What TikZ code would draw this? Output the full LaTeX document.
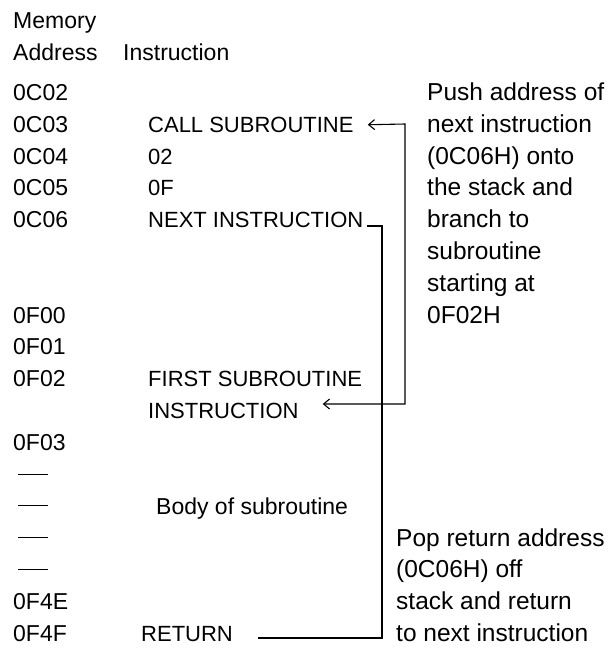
\documentclass[tikz,border=0pt]{standalone}
\usepackage{fontspec}
\setmainfont{Liberation Sans}
\usetikzlibrary{arrows.meta}
\begin{document}
\begin{tikzpicture}[x=1pt,y=-1pt,
  txt/.style={anchor=base west, inner sep=0pt, font=\fontsize{23}{28}\selectfont},
  cmd/.style={anchor=base west, inner sep=0pt, font=\fontsize{22}{28}\selectfont},
  note/.style={anchor=base west, inner sep=0pt, font=\fontsize{24.5}{28}\selectfont},
  conn/.style={line width=1.1pt},
  twoway/.style={{Straight Barb[length=6pt,width=10pt]}-{Straight Barb[length=6pt,width=10pt]}},
  dashmark/.style={inner sep=0pt}]
\useasboundingbox (0,0) rectangle (608,648);
% headers
\node[txt] (hmem) at (13,28.5) {Memory};
\node[txt] (hadr) at (13,60.5) {Address};
\node[txt] (hins) at (123,60.5) {Instruction};
% addresses (baseline = 100.5 + 31.8 i)
\node[txt] (a0) at (13,100.5) {0C02};
\node[txt] (a1) at (13,132.3) {0C03};
\node[txt] (a2) at (13,164.1) {0C04};
\node[txt] (a3) at (13,195.9) {0C05};
\node[txt] (a4) at (13,227.7) {0C06};
\node[txt] (a7) at (13,323.1) {0F00};
\node[txt] (a8) at (13,354.9) {0F01};
\node[txt] (a9) at (13,386.7) {0F02};
\node[txt] (a11) at (13,450.3) {0F03};
\node[dashmark] (d12) at (33,474) {\rule{30pt}{1pt}};
\node[dashmark] (d13) at (33,505.8) {\rule{30pt}{1pt}};
\node[dashmark] (d14) at (33,537.6) {\rule{30pt}{1pt}};
\node[dashmark] (d15) at (33,569.4) {\rule{30pt}{1pt}};
\node[txt] (a16) at (13,609.7) {0F4E};
\node[txt] (a17) at (13,641.5) {0F4F};
% instructions
\node[cmd] (call) at (148,132.3) {CALL SUBROUTINE};
\node[cmd] (i2) at (148,164.1) {02};
\node[cmd] (i3) at (148,195.9) {0F};
\node[cmd] (next) at (148,227.7) {NEXT INSTRUCTION};
\node[cmd] (first) at (148,386.7) {FIRST SUBROUTINE};
\node[cmd] (instr) at (148,418.5) {INSTRUCTION};
\node[txt] (body) at (156,514.2) {Body of subroutine};
\node[cmd] (ret) at (141,641.5) {RETURN};
% right texts
\node[note] (r0) at (427,100.5) {Push address of};
\node[note] (r1) at (427,132.3) {next instruction};
\node[note] (r2) at (427,164.1) {(0C06H) onto};
\node[note] (r3) at (427,195.9) {the stack and};
\node[note] (r4) at (427,227.7) {branch to};
\node[note] (r5) at (427,259.5) {subroutine};
\node[note] (r6) at (427,291.3) {starting at};
\node[note] (r7) at (427,323.1) {0F02H};
\node[note] (p0) at (396,546.1) {Pop return address};
\node[note] (p1) at (396,577.9) {(0C06H) off};
\node[note] (p2) at (396,609.7) {stack and return};
\node[note] (p3) at (396,641.5) {to next instruction};
% connectors
\coordinate (v2top) at (405,124);
\coordinate (v2bot) at (405,404);
\draw[conn,twoway] ([xshift=14pt]call.east) -- (v2top) -- (v2bot) -- ([xshift=24pt]instr.east |- v2bot);
\coordinate (v1top) at (382,226);
\coordinate (v1bot) at (382,638);
\draw[conn] ([xshift=3pt]next.base east |- v1top) -- (v1top) -- (v1bot) -- ([xshift=25pt]ret.east |- v1bot);
\end{tikzpicture}
\end{document}
